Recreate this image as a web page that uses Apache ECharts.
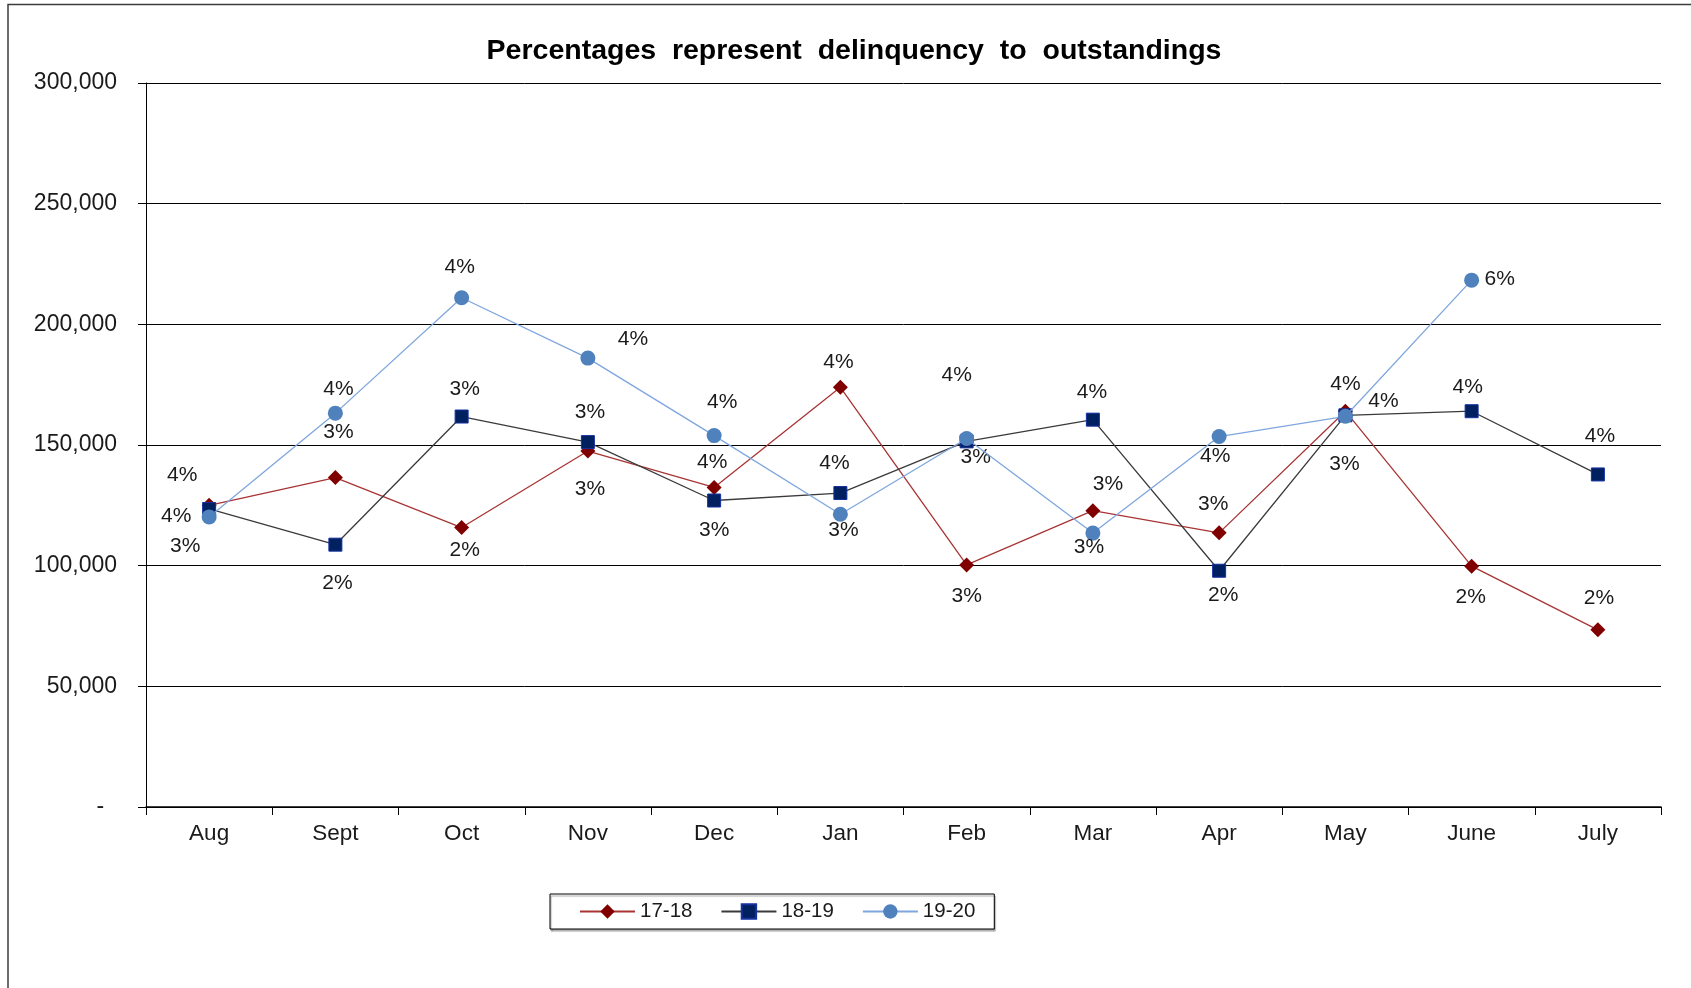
<!DOCTYPE html>
<html>
<head>
<meta charset="utf-8">
<title>Delinquency</title>
<script src="https://cdn.jsdelivr.net/npm/echarts@6/dist/echarts.min.js"></script>
<style>
  html, body { margin: 0; padding: 0; background: #fff; }
  #chart { width: 1691px; height: 988px; }
</style>
</head>
<body>
<div id="chart"></div>
<script>
// Monthly delinquency amounts per fiscal year, with delinquency-to-outstandings ratio labels
const months = ['Aug', 'Sept', 'Oct', 'Nov', 'Dec', 'Jan', 'Feb', 'Mar', 'Apr', 'May', 'June', 'July'];

const amounts1718 = [125000, 136500, 115800, 147500, 132400, 173900, 100300, 122800, 113600, 164000, 99800, 73400];
const amounts1819 = [123500, 108700, 161800, 151200, 127000, 130100, 151500, 160500, 97900, 162300, 164000, 137800];
const amounts1920 = [120200, 163200, 211000, 186000, 153900, 121300, 152700, 113500, 153500, 161900, 218300, null];

const pct1718 = ['4%', '3%', '2%', '3%', '4%', '4%', '3%', '3%', '3%', '4%', '2%', '2%'];
const pct1819 = ['3%', '2%', '3%', '3%', '3%', '4%', '3%', '4%', '2%', '3%', '4%', '4%'];
const pct1920 = ['4%', '4%', '4%', '4%', '4%', '3%', '4%', '3%', '4%', '4%', '6%', null];

const yTicks = [0, 50000, 100000, 150000, 200000, 250000, 300000];

// Where each percentage sits relative to its marker (label centre offset in px)
const spot1718 = [[-27, -30], [3, -45], [3, 23], [2, 38], [-2, -25], [-2, -25], [0, 31], [15, -26], [-6, -29], [0, -27], [-1, 31], [1, -32]];
const spot1819 = [[-24, 37], [2, 39], [3, -27], [2, -30], [0, 30], [-6, -30], [9, 16], [-1, -27], [4, 24], [-1, 49], [-4, -24], [2, -38]];
const spot1920 = [[-33, -1], [3, -24], [-2, -31], [45, -19], [8, -33], [3, 16], [-10, -63], [-4, 14], [-4, 20], [38, -15], [28, -1], [0, 0]];

const FONT = "'Liberation Sans', Arial, Helvetica, sans-serif";

function points(values, pcts, spots) {
  return values.map((v, i) => ({
    value: v,
    label: {
      show: pcts[i] != null,
      formatter: pcts[i] || '',
      position: 'inside',
      offset: spots[i],
      align: 'center',
      verticalAlign: 'middle'
    }
  }));
}

const labelStyle = { color: '#1a1a1a', fontFamily: FONT, fontSize: 21 };

const chart = echarts.init(document.getElementById('chart'), null, { renderer: 'canvas' });

chart.setOption({
  animation: false,
  backgroundColor: '#ffffff',
  textStyle: { fontFamily: FONT },
  graphic: [{
    type: 'rect',
    shape: { x: 8, y: 4.5, width: 1720, height: 1020 },
    style: { fill: 'none', stroke: '#3c3c3c', lineWidth: 1.5 },
    silent: true,
    z: -1
  }],
  title: {
    text: 'Percentages  represent  delinquency  to  outstandings',
    left: 849,
    top: 32,
    textAlign: 'center',
    textStyle: { fontFamily: FONT, fontSize: 28.5, fontWeight: 'bold', color: '#000' }
  },
  legend: {
    left: 550,
    top: 894,
    orient: 'horizontal',
    itemWidth: 55,
    itemHeight: 18,
    itemGap: 28,
    padding: [7, 19, 7, 29],
    borderColor: '#000',
    borderWidth: 1,
    backgroundColor: '#fff',
    shadowColor: 'rgba(0,0,0,0.35)',
    shadowOffsetY: 2,
    shadowOffsetX: 1,
    shadowBlur: 1,
    textStyle: { fontFamily: FONT, fontSize: 20.5, color: '#1a1a1a', lineHeight: 20 },
    data: ['17-18', '18-19', '19-20']
  },
  grid: { left: 146, right: 30, top: 83, bottom: 181, containLabel: false },
  xAxis: {
    type: 'category',
    data: months,
    boundaryGap: true,
    axisLine: { show: true, lineStyle: { color: '#000', width: 1.5 } },
    axisTick: { show: true, length: 8, lineStyle: { color: '#000', width: 1 } },
    axisLabel: { color: '#1a1a1a', fontFamily: FONT, fontSize: 22.5, margin: 15 },
    splitLine: { show: false }
  },
  yAxis: {
    type: 'value',
    min: yTicks[0],
    max: yTicks[yTicks.length - 1],
    interval: yTicks[1] - yTicks[0],
    axisLine: { show: true, lineStyle: { color: '#000', width: 1 } },
    axisTick: { show: true, length: 8, lineStyle: { color: '#000', width: 1 } },
    axisLabel: {
      color: '#1a1a1a',
      fontFamily: FONT,
      fontSize: 23,
      margin: 29,
      formatter: v => v === 0 ? '-  ' : v.toLocaleString('en-US')
    },
    splitLine: { show: true, lineStyle: { color: '#000', width: 1 } }
  },
  series: [
    {
      name: '17-18',
      type: 'line',
      data: points(amounts1718, pct1718, spot1718),
      symbol: 'diamond',
      symbolSize: 15,
      itemStyle: { color: '#800000' },
      lineStyle: { color: '#A83434', width: 1.3 },
      label: labelStyle,
      z: 2
    },
    {
      name: '18-19',
      type: 'line',
      data: points(amounts1819, pct1819, spot1819),
      symbol: 'rect',
      symbolSize: 13,
      itemStyle: { color: '#00205F', borderColor: '#1530A0', borderWidth: 1 },
      lineStyle: { color: '#3a3a3a', width: 1.3 },
      label: labelStyle,
      z: 3
    },
    {
      name: '19-20',
      type: 'line',
      data: points(amounts1920, pct1920, spot1920),
      symbol: 'circle',
      symbolSize: 15,
      itemStyle: { color: '#4F81BD' },
      lineStyle: { color: '#7FA6DE', width: 1.3 },
      label: labelStyle,
      z: 4
    }
  ]
});
</script>
</body>
</html>
